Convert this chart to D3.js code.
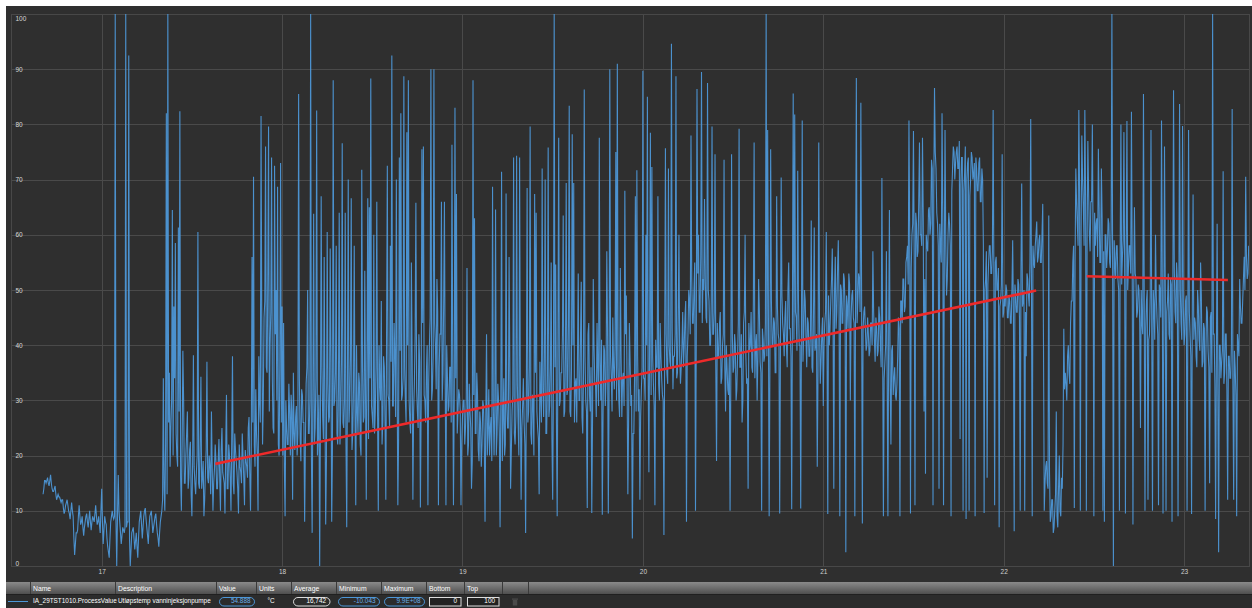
<!DOCTYPE html>
<html>
<head>
<meta charset="utf-8">
<script src="https://cdn.jsdelivr.net/npm/d3@7"></script>
<style>
  html, body { margin: 0; padding: 0; background: #ffffff; }
  svg { display: block; }
  text { font-family: "Liberation Sans", Arial, sans-serif; }
</style>
</head>
<body>
<svg id="chart" width="1252" height="608"></svg>
<script>
// Outlet temperature of the water injection pump.
// readings: logged every 12 minutes; midReadings: the sample logged 6 minutes after each reading.
const startDay = 16.675;
const stepDay = 1 / 240;
const readings = [
  13,15.5,15,16,14.5,16.5,14,13.5,14.5,12,13,12.5,11.5,12,9.5,11,12,10,8.5,11.5,
  9,2,6,6.5,11,7.5,9,5.5,8,9.5,7,10,6.5,9,8,11,7.5,9,6,14,
  4,9,7.5,3.5,1.5,8,10,8.5,100,0,16.5,8,4,7,6,100,8,92.5,0,6,
  7,3,6,1.5,8,10,5,9,10.5,7,4,9,10,6,8,9.5,6,3.5,8,10,
  34,10,82,100,35,25,64.5,47,58.5,20,61.3,82.4,10,39,15,20,28,16,22.5,9,
  38.2,15,17,60.5,14,34.3,16,9,17,37,15,18,28,10,17.5,19,14,23,10,25,
  16,9.5,31,14,20,10,38,13,21,17,9.5,18,15,20,11,19,16,27,10,56,
  70.5,18,24,10,30,81.5,22,45,76,35,79.6,40,74,25,72.5,50,68.7,20,73,47,
  44,9,25,22,28,31,12,24,27,20,85.5,23,32,26,8,33,50,24,100,6,
  63.8,25,82.5,24,0,67,27,56,7.5,60.5,26,57.5,8,88,30,58,22,64,28,76.6,
  25,64,7,70,30,66.6,24,58,11,28,35,22,71.8,26,53.5,12,66.6,65,88.3,27,
  60,28,66,10,33,48,26,36,12,72.5,30,58,92.5,29,38,70,11,74,82,31,
  88.7,30,78.6,88,26,55,12,33,65.8,28,42,10.6,75.5,76,30,35,11,40,90,32,
  90,40,52,11,42,66,35,66,11,34,29,36,76.3,11,83,67.4,28,31,11,27,
  30,25,54,22,28,14,88,63,24,31,19,26,22,29,8,42,24,20,27,68.7,
  20,64.6,24,30,7,71.4,26,20,67.5,25,56,14,28,74,22,74.3,26,74,12,29,
  26,6,68.5,28,79.6,22,30,67.4,64,25,13,31,72,27,70,24,75.8,29,55,12,
  100,54.6,9,77.6,30,35,63.5,28,69.4,32,83.4,27,78.2,69.4,33,26,53,30,51.5,24,
  86.3,30,10.5,44,28,9.6,52,33,27,36,77.6,30,9.3,40,29,57,9.5,90,34,45,
  32,75,91,30,54,27,35,68,49,13,44,29,5,24,67,71.7,28,12,32,89.7,
  34,60,85,17,78.5,72.3,33,11,36,67,30,38,31,5.6,75.7,35,72,37,94.6,32,
  38,88.7,35,60,33,40,36,45,8,42,48,78,44,50,10,86.4,60,46,89.5,52,
  66.5,45,87.5,48,40,79.6,42,74.6,19,38,44,33,40,73.6,28,36,31,10,74.6,35,
  42,30,38,79.2,36,26,44,60,33,14,39,46,35,76.7,40,30,52,37,10,41,
  38,100,79,9,75.5,40,45,35,67,42,9.5,70.4,44,38,48,36,55,43,10.3,85.6,
  81.8,45,71.6,40,10.4,80.7,42,48,36,44,38,62.6,35,61.3,40,18,76.7,33,42,29,
  44,60.5,9.4,40,48,57.5,14,56,46,59,9,50,44,52,2.5,47,53,30,49,45,
  9,88.4,48,52,83.9,7.7,46,43,40,42,39,44,57,41,45,38,47,40,70.3,9,
  37,57,9,64.5,22,40,34,31,33,45,9,48,52,46,55,58,80.7,9.5,60,78.8,
  11,62,57,76.7,60,77.6,28,16.7,58,64.5,60,73.6,11,86.6,72,62,14,58,82,11,
  79,49,60,62,9,72,75,73,76,72,23,74,10,71,8.5,73,10,70,74,71,
  9,72,68,74,66,70,9.6,52,16,55,58,53,82.6,11,56,50,7,48,74.6,46,
  47,50,45,48,44,59,6.3,49,46,51,10,69.3,48,10,38,52,47,81,9,55,
  58,62.4,56,60,55,65.6,10,18,15,63.5,8,12,6,10,28,7,20,9,14,43,
  35,30,40,33,48,55,10.5,72,62,82.6,10,78,65,82.6,10,77,60,66,80,9,
  58,63,75.6,55,72,10,8,60,57,62,54,100,0,55,58,52,10,80,56,78.6,
  9.5,80.6,54,58,82.3,7.5,65,52,46,50,25,44,85.5,10,48,12,42,79,10,47,
  60,45,11,50,80.7,9.5,76,10,48,42,52,8,86.2,46,55,9,83.7,44,79.7,40,
  48,10,79,42,9.4,67.3,45,38,50,41,55,36,44,10,47,39,15,46,100,42,
  8.5,62,2.5,40,37,71.5,35,42,12,38,34,82.8,12,36,9,40,52,44,48,56,
  70.5,52,58,54.888
];
const midReadings = [
  14,15.5,15.5,15,15.5,15,13.5,14,13,12.5,12.5,12,12,10.5,10,11.5,11,9.5,10,10,
  5,4,6,9,9,8,7,7,9,8,8.5,8,8,8.5,9.5,9,8,7.5,10,8,
  6.5,8,5,2.5,5,9,9,9,8,9,10,6,5.5,6.5,7,7,8,5,3,6.5,
  5,4.5,3.5,5,9,7.5,7,10,8.5,5.5,7,9.5,8,7,9,7.5,5,6,9,12,
  14,22,13,26,18,30,20,34,24,18,28,16,22,30,15,24,14,21,13,19,
  18,13,20,15,22,14,19,12,21,16,20,13,18,15,22,14,19,16,21,17,
  15,21,14,22,16,23,15,24,19,14,22,17,24,16,21,18,25,17,22,26,
  22,32,20,38,26,44,30,48,36,52,28,46,34,24,42,30,22,36,26,20,
  18,30,22,33,20,28,35,21,29,24,34,19,31,26,22,36,24,30,20,32,
  22,34,20,31,26,36,23,30,19,33,27,38,21,29,35,24,32,22,37,26,
  30,22,35,26,38,21,32,28,40,24,33,20,36,27,31,38,23,34,29,25,
  24,36,28,40,30,22,38,26,42,31,25,37,29,44,27,35,23,39,30,34,
  36,26,40,30,24,38,28,42,32,25,37,29,44,31,26,40,33,45,30,38,
  44,32,46,36,42,30,48,34,40,28,36,26,38,30,34,24,32,28,22,30,
  22,30,20,33,25,19,31,24,35,21,28,18,30,23,27,20,32,25,19,29,
  28,20,33,24,30,19,34,22,29,25,36,21,31,24,27,33,20,30,25,34,
  22,33,26,36,24,31,20,35,28,23,37,26,32,38,24,34,27,36,23,33,
  36,26,40,29,35,42,27,38,31,44,28,36,40,26,34,38,30,41,27,35,
  38,28,42,31,36,26,40,33,44,29,37,41,27,39,34,43,30,38,28,36,
  40,30,36,27,38,34,29,42,33,26,37,31,24,35,28,38,32,27,36,34,
  30,40,35,42,31,38,29,41,36,33,44,34,30,39,42,33,40,36,43,38,
  42,34,45,38,36,46,40,48,38,50,42,52,44,55,40,53,46,56,44,50,
  52,44,50,40,48,42,46,36,44,38,46,34,42,36,40,32,38,34,42,36,
  40,32,44,36,42,30,46,38,34,44,40,36,48,34,42,38,46,35,43,37,
  44,38,46,36,48,40,44,35,47,41,38,49,42,45,40,50,43,38,47,41,
  46,39,48,40,44,37,50,41,45,38,43,36,46,39,42,35,44,37,45,40,
  46,40,49,43,52,45,50,43,54,47,51,44,53,46,49,43,51,45,50,44,
  50,44,53,46,49,43,47,39,45,38,44,40,46,37,43,39,45,36,41,34,
  40,34,42,33,39,31,36,30,38,43,48,44,52,47,56,51,60,54,62,56,
  64,56,66,60,58,63,52,60,57,65,62,72,68,75,64,58,62,55,64,56,
  58,52,64,58,68,76,70,75,72,77,69,74,68,76,70,74,67,75,70,73,
  74,68,73,66,72,58,50,57,51,58,53,57,52,55,50,54,47,51,45,49,
  51,45,49,44,50,45,51,46,52,45,53,47,50,46,53,49,55,51,58,54,
  60,55,59,55,60,40,15,19,14,17,9,12,7,13,9,14,10,16,22,32,
  33,38,35,44,48,58,55,66,58,68,60,70,58,67,59,68,57,66,58,64,
  62,56,65,55,63,57,60,54,63,55,61,53,59,52,58,50,57,51,59,53,
  57,50,58,53,55,49,53,45,51,44,50,42,48,43,50,41,49,43,50,41,
  49,42,51,45,52,42,50,46,53,41,51,47,54,44,52,45,50,41,47,42,
  49,42,46,38,47,41,44,36,47,39,49,37,43,38,46,36,45,35,42,33,
  38,31,40,34,39,33,42,32,38,34,40,33,39,31,42,38,47,44,52,50,
  56,53,57
];

// Trend segments
const trendDays = [17.63, 22.18];
const trendValues = [18.5, 49.9];
const trend2Days = [22.46, 23.243];
const trend2Values = [52.5, 51.8];

// Axis ticks
const dayTicks = [17, 18, 19, 20, 21, 22, 23];
const valueTicks = [0, 10, 20, 30, 40, 50, 60, 70, 80, 90, 100];

// Legend table
const columnNames = ["Name", "Description", "Value", "Units", "Average", "Minimum", "Maximum", "Bottom", "Top"];
const seriesName = "IA_29TST1010.ProcessValue";
const seriesDescription = "Utløpstemp vanninjeksjonpumpe";
const currentValue = "54.888";
const unitLabel = "°C";
const averageLabel = "16,742";
const minimumLabel = "-10.043";
const maximumLabel = "9.9E+08";
const bottomLabel = "0";
const topLabel = "100";

// Samples in time order
const series = readings.flatMap((v, i) => i < midReadings.length ? [v, midReadings[i]] : [v]);

const svg = d3.select("#chart");
const W = 1252;
const plot = { left: 11.5, right: 1249, top: 14, bottom: 566 };
const lineBlue = "#4d97d7";

const x = d3.scaleLinear().domain([16.5, 23.36]).range([plot.left, plot.right]);
const y = d3.scaleLinear().domain([0, 100]).range([plot.bottom, plot.top]);

// Dark panel
svg.append("rect").attr("x", 6).attr("y", 6).attr("width", W - 6).attr("height", 576).attr("fill", "#2f2f2f");

// Gridlines
const gridColor = "#4a4a4a";
svg.append("g")
  .attr("transform", `translate(0,${plot.bottom})`)
  .call(d3.axisBottom(x).tickValues(dayTicks).tickSize(-(plot.bottom - plot.top)).tickFormat(""))
  .call(g => g.select(".domain").remove())
  .call(g => g.selectAll("line").attr("stroke", gridColor).attr("shape-rendering", "crispEdges"));
svg.append("g")
  .attr("transform", `translate(${plot.left},0)`)
  .call(d3.axisLeft(y).tickValues(valueTicks).tickSize(-(plot.right - plot.left)).tickFormat(""))
  .call(g => g.select(".domain").remove())
  .call(g => g.selectAll("line").attr("stroke", gridColor).attr("shape-rendering", "crispEdges"));

// Plot frame
svg.append("rect")
  .attr("x", plot.left).attr("y", plot.top)
  .attr("width", plot.right - plot.left).attr("height", plot.bottom - plot.top)
  .attr("fill", "none").attr("stroke", "#484848").attr("shape-rendering", "crispEdges");

// Clip
svg.append("clipPath").attr("id", "plotClip").append("rect")
  .attr("x", plot.left).attr("y", plot.top - 2)
  .attr("width", plot.right - plot.left).attr("height", plot.bottom - plot.top + 3);

// Series
const seriesLine = d3.line()
  .x((d, i) => x(startDay + i * stepDay))
  .y(d => y(d));
svg.append("path")
  .datum(series)
  .attr("clip-path", "url(#plotClip)")
  .attr("d", seriesLine)
  .attr("fill", "none")
  .attr("stroke", lineBlue)
  .attr("stroke-width", 1.1)
  .attr("stroke-linejoin", "miter")
  .attr("stroke-opacity", 0.95);

// Trend lines
const trendLine = d3.line().x(d => x(d[0])).y(d => y(d[1]));
[[trendDays, trendValues], [trend2Days, trend2Values]].forEach(([ds, vs]) => {
  svg.append("path")
    .datum(ds.map((d, i) => [d, vs[i]]))
    .attr("d", trendLine)
    .attr("fill", "none")
    .attr("stroke", "#ee2a2a")
    .attr("stroke-width", 2.6);
});

// Value labels inside the left edge
svg.append("g")
  .attr("transform", `translate(${plot.left},0)`)
  .call(d3.axisRight(y).tickValues(valueTicks).tickSize(0).tickPadding(4))
  .call(g => g.select(".domain").remove())
  .call(g => g.selectAll("text")
    .attr("fill", "#d8d8d8")
    .attr("font-size", 6.5)
    .attr("font-family", "Liberation Sans, Arial, sans-serif")
    .attr("dy", d => d === 100 ? "0.95em" : d === 0 ? "-0.1em" : "0.32em"));

// Day labels
svg.append("g")
  .attr("transform", `translate(0,${plot.bottom})`)
  .call(d3.axisBottom(x).tickValues(dayTicks).tickSize(0).tickPadding(3).tickFormat(d3.format("d")))
  .call(g => g.select(".domain").remove())
  .call(g => g.selectAll("text")
    .attr("fill", "#d0d0d0")
    .attr("font-size", 6.5)
    .attr("font-family", "Liberation Sans, Arial, sans-serif"));

// Legend table
const defs = svg.append("defs");
const hg = defs.append("linearGradient").attr("id", "headGrad").attr("x1", 0).attr("y1", 0).attr("x2", 0).attr("y2", 1);
hg.append("stop").attr("offset", "0%").attr("stop-color", "#8a8a8a");
hg.append("stop").attr("offset", "100%").attr("stop-color", "#4f4f4f");

svg.append("rect").attr("x", 6).attr("y", 582).attr("width", W - 6).attr("height", 12).attr("fill", "url(#headGrad)");
svg.append("rect").attr("x", 6).attr("y", 594).attr("width", W - 6).attr("height", 14).attr("fill", "#2c2c2c");
svg.append("line").attr("x1", 6).attr("x2", W).attr("y1", 594.5).attr("y2", 594.5).attr("stroke", "#202020");

const colEdges = [30, 115, 216, 256, 291, 336, 381, 426, 464, 502, 528];
svg.append("g").selectAll("line").data(colEdges).join("line")
  .attr("x1", d => d + 0.5).attr("x2", d => d + 0.5)
  .attr("y1", 582).attr("y2", 594)
  .attr("stroke", "#3a3a3a");

svg.append("g").selectAll("text").data(columnNames).join("text")
  .attr("x", (d, i) => colEdges[i] + 3)
  .attr("y", 591)
  .attr("fill", "#ffffff")
  .attr("font-size", 6.8)
  .text(d => d);

// Row
const rowY = 601;
svg.append("line").attr("x1", 8).attr("x2", 28).attr("y1", rowY + 0.5).attr("y2", rowY + 0.5)
  .attr("stroke", lineBlue).attr("stroke-width", 1);
svg.append("text").attr("x", 33).attr("y", rowY + 2.4).attr("fill", "#ffffff").attr("font-size", 6.4).text(seriesName);
svg.append("text").attr("x", 118).attr("y", rowY + 2.4).attr("fill", "#ffffff").attr("font-size", 6.4).text(seriesDescription);

const cells = [
  { x: 219.5, w: 35, r: 4.5, stroke: lineBlue, color: "#6aaee8", text: currentValue },
  { x: 293.5, w: 36.5, r: 4.5, stroke: "#dddddd", color: "#ffffff", text: averageLabel },
  { x: 338.5, w: 41, r: 4.5, stroke: lineBlue, color: "#6aaee8", text: minimumLabel },
  { x: 384.5, w: 40, r: 4.5, stroke: lineBlue, color: "#6aaee8", text: maximumLabel },
  { x: 429.5, w: 31.5, r: 0, stroke: "#dddddd", color: "#ffffff", text: bottomLabel, fill: "#222222" },
  { x: 467.5, w: 31.5, r: 0, stroke: "#dddddd", color: "#ffffff", text: topLabel, fill: "#222222" }
];
const cellG = svg.append("g").selectAll("g").data(cells).join("g");
cellG.append("rect")
  .attr("x", d => d.x).attr("y", 597.5).attr("width", d => d.w).attr("height", 8.5)
  .attr("rx", d => d.r).attr("ry", d => d.r)
  .attr("fill", d => d.fill || "none").attr("stroke", d => d.stroke).attr("stroke-width", 1);
cellG.append("text")
  .attr("x", d => d.x + d.w - 4).attr("y", rowY + 2.4)
  .attr("text-anchor", "end").attr("fill", d => d.color).attr("font-size", 6.4)
  .text(d => d.text);

svg.append("text").attr("x", 271).attr("y", rowY + 2.4).attr("text-anchor", "middle")
  .attr("fill", "#ffffff").attr("font-size", 6.4).text(unitLabel);

// Delete icon
const trash = svg.append("g").attr("fill", "#4a4a4a");
trash.append("rect").attr("x", 512).attr("y", 598.5).attr("width", 6).attr("height", 1.2);
trash.append("rect").attr("x", 512.8).attr("y", 600).attr("width", 4.4).attr("height", 5.5);
</script>
</body>
</html>
